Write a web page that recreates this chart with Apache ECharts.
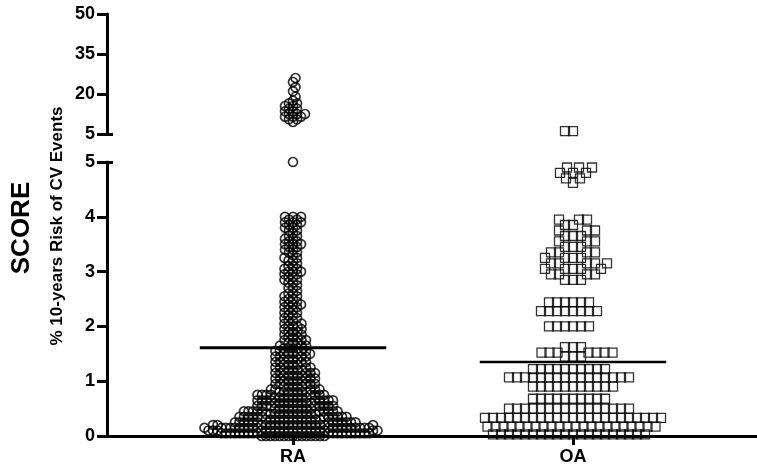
<!DOCTYPE html>
<html><head><meta charset="utf-8">
<script src="https://cdn.jsdelivr.net/npm/echarts@6/dist/echarts.min.js"></script>
<style>html,body{margin:0;padding:0;background:#fff}#c{width:757px;height:474px}</style>
</head><body><div id="c"></div>
<script>
// ---- data ----
const categories = ['RA', 'OA'];
// RA: SCORE value levels on the lower (0–5) segment and patient counts at each level
const raLevels = [0.00,0.05,0.10,0.15,0.20,0.25,0.30,0.35,0.40,0.45,0.50,0.55,0.60,0.65,0.70,0.75,0.80,0.85,0.90,0.95,
  1.00,1.05,1.10,1.15,1.20,1.25,1.30,1.35,1.40,1.45,1.50,1.55,1.60,1.65,1.70,1.75,1.80,1.85,1.90,1.95,
  2.00,2.05,2.10,2.15,2.20,2.25,2.30,2.35,2.40,2.45,2.50,2.55,2.60,2.65,2.70,2.75,2.80,2.85,2.90,2.95,
  3.00,3.05,3.10,3.15,3.20,3.25,3.30,3.35,3.40,3.45,3.50,3.55,3.60,3.65,3.70,3.75,3.80,3.85,3.90,3.95,4.00,5.00];
const raCounts = [15,19,20,20,18,13,13,12,12,10,9,9,9,9,8,8,7,5,5,5,
  5,5,5,5,5,4,4,4,4,4,5,4,4,3,3,3,3,2,3,2,
  3,2,2,2,2,2,2,2,3,2,2,2,2,1,2,1,2,2,2,2,
  3,2,2,1,2,2,1,2,2,2,3,2,2,2,1,2,2,2,3,2,3,1];
// RA: values on the upper (5–50) segment
const raUpperLevels = [9.5,10.5,11.5,12.5,13.5,14.5,15.5,16.5,17.5,19,21,22.5,24.5,26];
const raUpperCounts = [1,2,3,3,2,2,2,2,1,1,1,1,1,1];
// OA: lower segment levels and counts
const oaLevels = [0.03,0.17,0.33,0.50,0.68,0.90,1.07,1.22,1.45,1.52,1.62,2.00,2.28,2.44,
  2.85,2.95,3.05,3.15,3.25,3.35,3.45,3.55,3.65,3.75,3.85,3.95,4.62,4.70,4.80,4.90];
const oaCounts = [20,22,23,16,10,11,16,10,3,7,3,6,8,6,
  3,4,5,5,4,4,3,3,3,3,2,3,1,2,3,3];
// OA: upper segment
const oaUpperLevels = [6.1];
const oaUpperCounts = [2];
// group means (horizontal lines)
const means = [1.61, 1.35];
// axis ticks: min, max, interval
const lowerTicks = [0, 5, 1];
const upperTicks = [5, 50, 15];

// ---- layout ----
const GRID_W = 650, UP_H = 120, LOW_H = 274;
const PX_PER_CAT = 280;
const XMIN = -186 / PX_PER_CAT, XMAX = XMIN + GRID_W / PX_PER_CAT;
const LOW_PX = LOW_H / (lowerTicks[1] - lowerTicks[0]);
const UP_PX = UP_H / (upperTicks[1] - upperTicks[0]);
// deterministic beeswarm: each point goes to the free spot closest to the category centre
function beeswarm(levels, counts, cat, pxPerUnit, minDist) {
  const placed = [], out = [];
  levels.forEach((v, i) => {
    const y = v * pxPerUnit;
    for (let k = 0; k < counts[i]; k++) {
      const near = placed.filter(p => Math.abs(p[1] - y) < minDist);
      const side = k % 2 === 0 ? 1 : -1;
      let x = 0;
      for (let s = 0; s < 2000; s++) {
        const d = s * 0.5;
        const cands = s === 0 ? [0] : [side * d, -side * d];
        const ok = cands.find(c => near.every(p => (p[0] - c) ** 2 + (p[1] - y) ** 2 >= minDist * minDist - 1e-6));
        if (ok !== undefined) { x = ok; break; }
      }
      placed.push([x, y]);
      out.push([cat + x / PX_PER_CAT, v]);
    }
  });
  return out;
}
const FONT = 'Arial, "Liberation Sans", sans-serif';
const black = '#000';
const circleStyle = {color: 'rgba(0,0,0,0)', borderColor: black, borderWidth: 1.7};
const rectStyle = {color: 'rgba(0,0,0,0)', borderColor: black, borderWidth: 1.3};

const chart = echarts.init(document.getElementById('c'), null, {renderer: 'canvas'});
const xBase = {type: 'value', min: XMIN, max: XMAX, splitLine: {show: false}};
const yLabel = {color: black, fontWeight: 'bold', fontSize: 18, fontFamily: FONT, margin: 12};
chart.setOption({
  animation: false,
  backgroundColor: '#fff',
  grid: [
    {left: 107, top: 14, width: GRID_W, height: UP_H},
    {left: 107, top: 162, width: GRID_W, height: LOW_H}
  ],
  xAxis: [
    Object.assign({gridIndex: 0, show: false}, xBase),
    Object.assign({gridIndex: 1,
      axisLine: {onZero: false, lineStyle: {color: black, width: 3}},
      axisTick: {customValues: [0, 1], length: 9, lineStyle: {color: black, width: 3}},
      axisLabel: {customValues: [0, 1], formatter: v => categories[Math.round(v)],
        color: black, fontWeight: 'bold', fontSize: 18, fontFamily: FONT, margin: 12}
    }, xBase)
  ],
  yAxis: [
    {gridIndex: 0, type: 'value', position: 'left', min: upperTicks[0], max: upperTicks[1], interval: upperTicks[2],
     axisLine: {show: true, onZero: false, lineStyle: {color: black, width: 3}},
     axisTick: {show: true, length: 10, lineStyle: {color: black, width: 3}},
     axisLabel: yLabel, splitLine: {show: false}},
    {gridIndex: 1, type: 'value', position: 'left', min: lowerTicks[0], max: lowerTicks[1], interval: lowerTicks[2],
     axisLine: {show: true, onZero: false, lineStyle: {color: black, width: 3}},
     axisTick: {show: true, length: 10, lineStyle: {color: black, width: 3}},
     axisLabel: yLabel, splitLine: {show: false}},
    // end caps of the axis break
    {gridIndex: 0, type: 'value', position: 'left', offset: 0, min: upperTicks[0], max: upperTicks[1],
     axisLine: {show: false, onZero: false}, axisLabel: {show: false}, splitLine: {show: false},
     axisTick: {show: true, inside: true, length: 6, customValues: [upperTicks[0]], lineStyle: {color: black, width: 3}}},
    {gridIndex: 1, type: 'value', position: 'left', offset: 0, min: lowerTicks[0], max: lowerTicks[1],
     axisLine: {show: false, onZero: false}, axisLabel: {show: false}, splitLine: {show: false},
     axisTick: {show: true, inside: true, length: 6, customValues: [lowerTicks[1]], lineStyle: {color: black, width: 3}}}
  ],
  series: [
    {type: 'scatter', xAxisIndex: 1, yAxisIndex: 1, symbol: 'circle', symbolSize: 9, clip: false, silent: true,
     itemStyle: circleStyle, data: beeswarm(raLevels, raCounts, 0, LOW_PX, 4.5)},
    {type: 'scatter', xAxisIndex: 0, yAxisIndex: 0, symbol: 'circle', symbolSize: 9, clip: false, silent: true,
     itemStyle: circleStyle, data: beeswarm(raUpperLevels, raUpperCounts, 0, UP_PX, 4.5)},
    {type: 'scatter', xAxisIndex: 1, yAxisIndex: 1, symbol: 'rect', symbolSize: 9, clip: false, silent: true,
     itemStyle: rectStyle, data: beeswarm(oaLevels, oaCounts, 1, LOW_PX, 8)},
    {type: 'scatter', xAxisIndex: 0, yAxisIndex: 0, symbol: 'rect', symbolSize: 9, clip: false, silent: true,
     itemStyle: rectStyle, data: beeswarm(oaUpperLevels, oaUpperCounts, 1, UP_PX, 8)}
  ].concat(means.map((m, i) => ({
    type: 'line', xAxisIndex: 1, yAxisIndex: 1, symbol: 'none', silent: true, z: 5,
    lineStyle: {color: black, width: i === 0 ? 3 : 2.5},
    data: [[i - 0.333, m], [i + 0.333, m]]
  }))),
  graphic: [
    {type: 'text', x: 22, y: 228, rotation: Math.PI / 2,
     style: {text: 'SCORE', font: 'bold 26px ' + FONT, fill: black, align: 'center', verticalAlign: 'middle'}},
    {type: 'text', x: 57, y: 226, rotation: Math.PI / 2,
     style: {text: '% 10-years Risk of CV Events', font: 'bold 17px ' + FONT, fill: black, align: 'center', verticalAlign: 'middle'}}
  ]
});
</script>
</body></html>
